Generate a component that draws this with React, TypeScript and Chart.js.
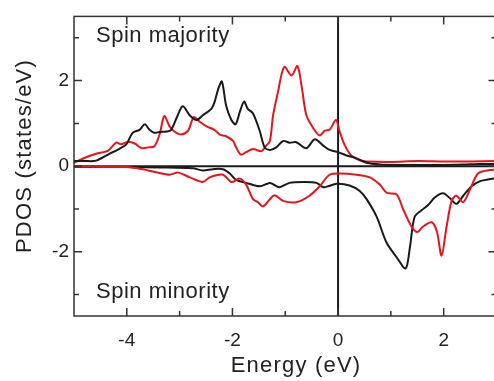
import React, { useEffect, useRef } from 'react';
import { Chart, registerables } from 'chart.js';

Chart.register(...registerables);

// ---- data ----
const majBlackE = [-5.0, -4.8, -4.58, -4.33, -4.15, -4.01, -3.89, -3.76, -3.66, -3.57, -3.48, -3.38, -3.25, -3.16, -3.05, -2.94, -2.81, -2.68, -2.56, -2.4, -2.34, -2.27, -2.2, -2.12, -2.02, -1.94, -1.86, -1.78, -1.71, -1.61, -1.48, -1.39, -1.29, -1.17, -1.04, -0.92, -0.79, -0.6, -0.44, -0.28, -0.16, 0.0, 0.16, 0.32, 0.54, 0.8, 1.2, 1.6, 2.0, 2.4, 2.7, 3.0];
const majBlackD = [0.12, 0.12, 0.13, 0.29, 0.4, 0.51, 0.78, 0.85, 0.98, 0.85, 0.78, 0.8, 0.81, 0.85, 1.15, 1.4, 1.19, 1.08, 1.19, 1.34, 1.49, 1.8, 1.98, 1.42, 1.08, 0.98, 1.27, 1.51, 1.34, 1.23, 0.81, 0.44, 0.38, 0.44, 0.59, 0.55, 0.56, 0.42, 0.63, 0.48, 0.38, 0.33, 0.25, 0.2, 0.08, 0.04, 0.03, 0.03, 0.03, 0.04, 0.05, 0.05];

const majRedE = [-5.0, -4.77, -4.58, -4.36, -4.2, -4.11, -3.98, -3.85, -3.72, -3.6, -3.48, -3.38, -3.29, -3.19, -3.1, -2.97, -2.84, -2.73, -2.62, -2.49, -2.34, -2.24, -2.12, -1.99, -1.93, -1.84, -1.74, -1.61, -1.45, -1.36, -1.29, -1.23, -1.14, -1.02, -0.88, -0.77, -0.69, -0.6, -0.47, -0.35, -0.25, -0.16, -0.04, 0.03, 0.13, 0.25, 0.41, 0.54, 1.0, 1.5, 2.0, 2.5, 3.0];
const majRedD = [0.08, 0.21, 0.29, 0.36, 0.55, 0.51, 0.57, 0.53, 0.42, 0.44, 0.46, 0.74, 1.17, 0.93, 0.81, 0.74, 0.83, 1.15, 1.04, 0.93, 0.85, 0.74, 0.7, 0.59, 0.44, 0.27, 0.33, 0.4, 0.35, 0.48, 0.59, 1.19, 1.72, 2.32, 2.12, 2.34, 1.87, 1.19, 0.89, 0.72, 0.83, 0.85, 1.08, 0.81, 0.48, 0.25, 0.14, 0.11, 0.1, 0.12, 0.11, 0.11, 0.12];

const minBlackE = [-5.0, -4.0, -3.38, -2.75, -2.56, -2.37, -2.18, -2.05, -1.93, -1.74, -1.48, -1.29, -1.11, -0.92, -0.66, -0.41, -0.28, -0.19, -0.03, 0.22, 0.41, 0.54, 0.73, 0.92, 1.11, 1.28, 1.36, 1.45, 1.58, 1.71, 1.83, 1.99, 2.12, 2.24, 2.37, 2.53, 2.69, 2.88, 3.0];
const minBlackD = [-0.02, -0.02, -0.03, -0.05, -0.1, -0.07, -0.07, -0.17, -0.32, -0.39, -0.47, -0.39, -0.49, -0.39, -0.37, -0.39, -0.49, -0.47, -0.41, -0.45, -0.58, -0.77, -1.18, -1.79, -2.13, -2.39, -1.9, -1.18, -1.03, -0.9, -0.73, -0.63, -0.75, -0.88, -0.69, -0.47, -0.35, -0.3, -0.28];

const minRedE = [-5.0, -4.01, -3.7, -3.45, -3.19, -3.03, -2.81, -2.56, -2.43, -2.18, -2.02, -1.86, -1.74, -1.61, -1.52, -1.42, -1.29, -1.2, -1.04, -0.79, -0.54, -0.35, -0.16, 0.03, 0.35, 0.6, 0.79, 0.92, 1.11, 1.23, 1.39, 1.5, 1.61, 1.77, 1.87, 1.96, 2.05, 2.15, 2.24, 2.37, 2.5, 2.65, 2.88, 3.0];
const minRedD = [-0.01, -0.02, -0.07, -0.14, -0.2, -0.15, -0.26, -0.37, -0.26, -0.2, -0.37, -0.29, -0.43, -0.77, -0.84, -0.94, -0.77, -0.68, -0.81, -0.84, -0.69, -0.47, -0.2, -0.17, -0.2, -0.26, -0.43, -0.62, -0.66, -1.0, -1.41, -1.54, -1.41, -1.31, -1.52, -2.09, -1.45, -0.81, -0.69, -0.84, -0.54, -0.17, -0.09, -0.08];

const xTickValues = [-4, -3, -2, -1, 0, 1, 2];
const yTickValues = [-3, -2, -1, 0, 1, 2, 3];
const xLabel = 'Energy (eV)';
const yLabel = 'PDOS (states/eV)';
const upperNote = 'Spin majority';
const lowerNote = 'Spin minority';

const FONT = "'Liberation Sans', Arial, Helvetica, sans-serif";
const TEXT = '#222222';
const BLACK = '#1a1a1a';
const RED = '#e8141c';

const pts = (xs: number[], ys: number[]) => xs.map((x, i) => ({ x, y: ys[i] }));

const framePlugin = {
  id: 'frame',
  beforeDatasetsDraw(chart: any) {
    const { ctx, chartArea: a, scales } = chart;
    const xs = scales.x, ys = scales.y;
    ctx.save();
    ctx.strokeStyle = BLACK;
    ctx.lineWidth = 2;
    const y0 = ys.getPixelForValue(0);
    ctx.beginPath();
    ctx.moveTo(a.left, y0);
    ctx.lineTo(a.right, y0);
    ctx.stroke();
    const x0 = xs.getPixelForValue(0);
    ctx.beginPath();
    ctx.moveTo(x0, a.top);
    ctx.lineTo(x0, a.bottom);
    ctx.stroke();
    ctx.restore();
  },
  afterDraw(chart: any) {
    const { ctx, chartArea: a, scales } = chart;
    const xs = scales.x, ys = scales.y;
    ctx.save();
    ctx.strokeStyle = '#333333';
    ctx.lineWidth = 1.5;
    ctx.strokeRect(a.left, a.top, a.right - a.left, a.bottom - a.top);
    ctx.beginPath();
    for (const v of xTickValues) {
      const px = xs.getPixelForValue(v);
      const len = v % 2 === 0 ? 8 : 5;
      ctx.moveTo(px, a.bottom);
      ctx.lineTo(px, a.bottom - len);
      ctx.moveTo(px, a.top);
      ctx.lineTo(px, a.top + len);
    }
    for (const v of yTickValues) {
      const py = ys.getPixelForValue(v);
      const len = v % 2 === 0 ? 8 : 5;
      ctx.moveTo(a.left, py);
      ctx.lineTo(a.left + len, py);
      ctx.moveTo(a.right, py);
      ctx.lineTo(a.right - len, py);
    }
    ctx.stroke();

    ctx.fillStyle = TEXT;
    (ctx as any).letterSpacing = '0.5px';
    ctx.font = `22px ${FONT}`;
    ctx.textAlign = 'left';
    ctx.textBaseline = 'alphabetic';
    ctx.fillText(upperNote, a.left + 22, 42);
    ctx.fillText(lowerNote, a.left + 22, 298);

    (ctx as any).letterSpacing = '1.2px';
    ctx.textAlign = 'center';
    ctx.fillText(xLabel, 296, 372);

    ctx.translate(25, 156);
    ctx.rotate(-Math.PI / 2);
    ctx.textBaseline = 'middle';
    ctx.fillText(yLabel, 0, 0);
    ctx.restore();
  },
};

export default function App() {
  const ref = useRef<HTMLCanvasElement | null>(null);

  useEffect(() => {
    if (!ref.current) return;
    const line = (data: any, color: string) => ({
      data,
      showLine: true,
      borderColor: color,
      backgroundColor: color,
      borderWidth: 2,
      pointRadius: 0,
      tension: 0.3,
      fill: false,
    });
    const chart = new Chart(ref.current, {
      type: 'scatter',
      data: {
        datasets: [
          line(pts(minRedE, minRedD), RED),
          line(pts(minBlackE, minBlackD), BLACK),
          line(pts(majBlackE, majBlackD), BLACK),
          line(pts(majRedE, majRedD), RED),
        ],
      },
      options: {
        responsive: false,
        animation: false,
        layout: { padding: { top: 7, right: 3.5, left: 0, bottom: 0 } },
        plugins: { legend: { display: false }, tooltip: { enabled: false }, title: { display: false } },
        scales: {
          x: {
            type: 'linear',
            min: -5,
            max: 3,
            grid: { display: false, drawTicks: false },
            border: { display: false },
            afterBuildTicks: (s: any) => { s.ticks = xTickValues.map((v) => ({ value: v })); },
            afterFit: (s: any) => { s.height = 65; },
            ticks: {
              autoSkip: false,
              maxRotation: 0,
              padding: 13,
              color: TEXT,
              font: { size: 19, family: FONT },
              callback: (v: any) => (Number(v) % 2 === 0 ? String(v) : ''),
            },
          },
          y: {
            type: 'linear',
            min: -3.5,
            max: 3.5,
            grid: { display: false, drawTicks: false },
            border: { display: false },
            afterBuildTicks: (s: any) => { s.ticks = yTickValues.map((v) => ({ value: v })); },
            afterFit: (s: any) => { s.width = 74; },
            ticks: {
              autoSkip: false,
              padding: 5,
              color: TEXT,
              font: { size: 19, family: FONT },
              callback: (v: any) => (Number(v) % 2 === 0 ? String(v) : ''),
            },
          },
        },
      },
      plugins: [framePlugin],
    });
    return () => chart.destroy();
  }, []);

  return (
    <div style={{ position: 'fixed', left: 0, top: 0, width: 494, height: 381, overflow: 'hidden', background: '#fff' }}>
      <canvas ref={ref} width={500} height={381} style={{ display: 'block' }} />
    </div>
  );
}
